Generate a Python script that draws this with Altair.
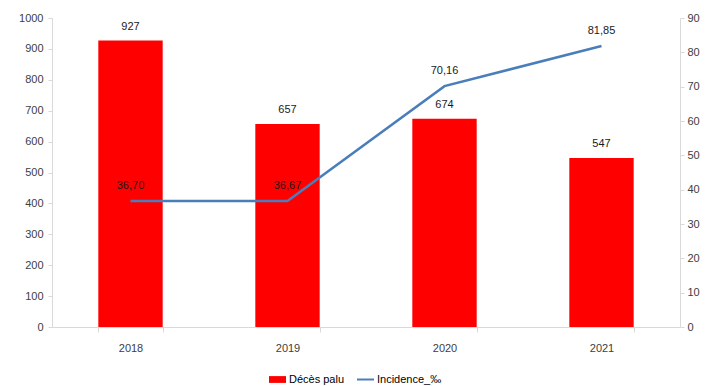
import altair as alt
import pandas as pd

years = ["2018", "2019", "2020", "2021"]
deces = [927, 657, 674, 547]
incidence = [36.70, 36.67, 70.16, 81.85]
incidence_labels = ["36,70", "36,67", "70,16", "81,85"]

df = pd.DataFrame({
    "year": years,
    "deces": deces,
    "incidence": incidence,
    "inc_label": incidence_labels,
    "s1": ["Décès palu"] * 4,
    "s2": ["Incidence_‰"] * 4,
})

FONT = "Liberation Sans"
FS = 11

x = alt.X("year:N", title=None, sort=years,
          scale=alt.Scale(paddingInner=0.59, paddingOuter=0.295),
          axis=alt.Axis(labelAngle=0, tickBand="extent", domainColor="#d9d9d9",
                        tickColor="#d9d9d9", tickSize=5, labelPadding=10,
                        labelFont=FONT, labelFontSize=FS, labelColor="#404040"))

yL = alt.Y("deces:Q", title=None,
           scale=alt.Scale(domain=[0, 1000]),
           axis=alt.Axis(values=list(range(0, 1001, 100)), grid=False, format="d",
                         domainColor="#d9d9d9", tickColor="#d9d9d9", tickSize=4,
                         labelPadding=5, labelFont=FONT, labelFontSize=FS,
                         labelColor="#404040"))

yR = alt.Y("incidence:Q", title=None,
           scale=alt.Scale(domain=[0, 90]),
           axis=alt.Axis(orient="right", values=list(range(0, 91, 10)), grid=False,
                         domainColor="#d9d9d9", tickColor="#d9d9d9", tickSize=4,
                         labelPadding=3, labelFont=FONT, labelFontSize=FS,
                         labelColor="#404040"))

base = alt.Chart(df)

bars = base.mark_bar().encode(
    x=x, y=yL,
    color=alt.Color("s1:N", title=None,
                    scale=alt.Scale(domain=["Décès palu"], range=["#ff0000"]),
                    legend=alt.Legend(orient="none", legendX=216, legendY=352,
                                      symbolType="M-1,-0.4H1V0.4H-1Z",
                                      symbolSize=289, labelFont=FONT,
                                      labelFontSize=FS, labelColor="#000000",
                                      labelOffset=2)),
)
bar_text = base.mark_text(dy=-14, font=FONT, fontSize=FS, color="#1a1a1a").encode(
    x=x, y=yL, text="deces:Q")

line = base.mark_line(strokeWidth=2.5).encode(
    x=x, y=yR,
    stroke=alt.Stroke("s2:N", title=None,
                      scale=alt.Scale(domain=["Incidence_‰"], range=["#4a7ebb"]),
                      legend=alt.Legend(orient="none", legendX=304, legendY=352,
                                        symbolType="stroke", symbolSize=289,
                                        symbolStrokeWidth=2, labelFont=FONT,
                                        labelFontSize=FS, labelColor="#000000",
                                        labelOffset=2)),
)
line_text = base.mark_text(dy=-15, font=FONT, fontSize=FS, color="#1a1a1a").encode(
    x=x, y=yR, text="inc_label:N")

left = alt.layer(bars, bar_text)
right = alt.layer(line, line_text)

chart = alt.layer(left, right).resolve_scale(
    y="independent", color="independent", stroke="independent"
).properties(
    width=628, height=309,
    autosize=alt.AutoSizeParams(type="none"),
    padding={"left": 44, "top": 10, "right": 22, "bottom": 70},
).configure_view(stroke=None).configure_legend(padding=0)

chart.save("out.html", embed_options={"renderer": "svg", "actions": False})
